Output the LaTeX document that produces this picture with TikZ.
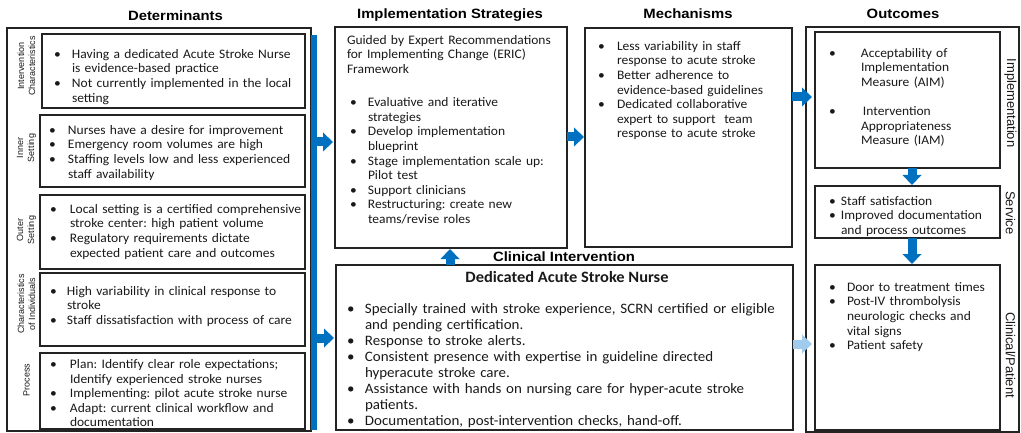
\documentclass[tikz,border=0pt]{standalone}
\usepackage{fontspec}
\setmainfont[FakeStretch=1.04]{Carlito}
\newfontfamily\hfont[FakeStretch=1.1]{Liberation Sans}
\newfontfamily\lfont{Liberation Sans}
\usetikzlibrary{arrows.meta}
\definecolor{ablue}{RGB}{0,112,192}
\definecolor{lblue}{RGB}{160,203,236}
\definecolor{edge}{RGB}{35,35,35}
\definecolor{ink}{RGB}{25,25,25}
\frenchspacing
% hanging bullet item: bullet at the left edge, text indented by \bgap
\newlength\bgap
\newcommand\itm{\par\leftskip=\bgap\noindent\llap{\hbox to\bgap{\strut•\hfil}}}
\begin{document}
\begin{tikzpicture}[x=1pt,y=-1pt, text=ink,
  frame/.style={draw=edge, line width=1.3pt, inner sep=0pt, outer sep=0pt, anchor=north west},
  txt/.style={anchor=north west, inner sep=0pt, outer sep=0pt, align=left, text width=#1,
    font=\fontsize{13}{14.6}\selectfont, execute at begin node={\parindent=0pt\frenchspacing}},
  bigtxt/.style={txt=#1, font=\fontsize{14.4}{16.1}\selectfont},
  ttl/.style={text=black, font=\hfont\bfseries\fontsize{13.5}{16}\selectfont, text height=9.7pt, text depth=0pt, inner sep=0pt},
  sidel/.style={rotate=90, align=center, inner sep=0pt, font=\lfont\fontsize{9}{11}\selectfont},
  sider/.style={rotate=-90, inner sep=0pt, font=\lfont\fontsize{13}{15}\selectfont},
  ar/.style={draw=#1, line width=9pt, -{Triangle[width=19pt,length=10pt,line width=0pt 0]}},
]
\useasboundingbox (0,0) rectangle (1021,433);

% ---- titles ----
\node[ttl] (tdet)  at (175.5,16) {Determinants};
\node[ttl] (timpl) at (450,14)   {Implementation Strategies};
\node[ttl] (tmech) at (688,14)   {Mechanisms};
\node[ttl] (tout)  at (903,14)   {Outcomes};
\node[ttl] (tclin) at (564,257)  {Clinical Intervention};

% ---- determinants column ----
\node[frame, minimum width=304pt, minimum height=403pt] (det)   at (7,28)   {};
\node[frame, minimum width=263pt, minimum height=74pt]  (ic)    at (42,34)  {};
\node[frame, minimum width=265pt, minimum height=72pt]  (inner) at (40,115) {};
\node[frame, minimum width=265pt, minimum height=74pt]  (outer) at (40,195) {};
\node[frame, minimum width=265pt, minimum height=73pt]  (indiv) at (40,273) {};
\node[frame, minimum width=265pt, minimum height=76pt]  (proc)  at (40,353) {};
\node[fill=ablue, inner sep=0pt, outer sep=0pt, minimum width=5.5pt, minimum height=395pt, anchor=north west] (bar) at (311,35) {};

\node[sidel] (lic)   at (26.5,66)  {Intervention\\Characteristics};
\node[sidel] (lin)   at (26.5,148) {Inner\\Setting};
\node[sidel] (lout)  at (26.5,230) {Outer\\Setting};
\node[sidel] (lind)  at (26.5,304) {Characteristics\\of Individuals};
\node[sidel] (lproc) at (26.5,380) {Process};

\node[txt=300pt] (xic) at (54,43.8) {\setlength\bgap{18pt}%
  \itm Having a dedicated Acute Stroke Nurse\\is evidence-based practice
  \itm Not currently implemented in the local\\setting\par};
\node[txt=300pt] (xin) at (49,119.8) {\setlength\bgap{19pt}%
  \itm Nurses have a desire for improvement
  \itm Emergency room volumes are high
  \itm Staffing levels low and less experienced\\staff availability\par};
\node[txt=300pt] (xout) at (50,198.8) {\setlength\bgap{20pt}%
  \itm Local setting is a certified comprehensive\\stroke center: high patient volume
  \itm Regulatory requirements dictate\\expected patient care and outcomes\par};
\node[txt=300pt] (xind) at (50,280.8) {\setlength\bgap{17pt}%
  \itm High variability in clinical response to\\stroke
  \itm Staff dissatisfaction with process of care\par};
\node[txt=300pt] (xproc) at (50,353.8) {\setlength\bgap{20pt}%
  \itm Plan: Identify clear role expectations;\\Identify experienced stroke nurses
  \itm Implementing: pilot acute stroke nurse
  \itm Adapt: current clinical workflow and\\documentation\par};

% ---- implementation strategies ----
\node[frame, minimum width=232pt, minimum height=221pt] (impl) at (335,27) {};
\node[txt=250pt] (ximpl) at (347,33.8) {\strut Guided by Expert Recommendations\\for Implementing Change (ERIC)\\Framework\par};
\node[txt=250pt] (xstrat) at (350,92.2) {\setlength\bgap{18pt}%
  \itm Evaluative and iterative\\strategies
  \itm Develop implementation\\blueprint
  \itm Stage implementation scale up:\\Pilot test
  \itm Support clinicians
  \itm Restructuring: create new\\teams/revise roles\par};

% ---- mechanisms ----
\node[frame, minimum width=207pt, minimum height=219pt] (mech) at (585,28) {};
\node[txt=250pt] (xmech) at (598,35.8) {\setlength\bgap{19pt}%
  \itm Less variability in staff\\response to acute stroke
  \itm Better adherence to\\evidence-based guidelines
  \itm Dedicated collaborative\\expert to support\ \ team\\response to acute stroke\par};

% ---- clinical intervention ----
\node[frame, minimum width=457pt, minimum height=165pt] (clin) at (336,265) {};
\node[font=\bfseries\fontsize{15.8}{18}\selectfont, text height=10pt, text depth=0pt, inner sep=0pt] (tdasn) at (567,277) {Dedicated Acute Stroke Nurse};
\node[bigtxt=480pt] (xclin) at (347,296.9) {\setlength\bgap{18pt}%
  \itm Specially trained with stroke experience, SCRN certified or eligible\\and pending certification.
  \itm Response to stroke alerts.
  \itm Consistent presence with expertise in guideline directed\\hyperacute stroke care.
  \itm Assistance with hands on nursing care for hyper-acute stroke\\patients.
  \itm Documentation, post-intervention checks, hand-off.\par};

% ---- outcomes ----
\node[frame, minimum width=213pt, minimum height=405pt] (outc)  at (806,27)  {};
\node[frame, minimum width=185pt, minimum height=136pt] (oimpl) at (815,32)  {};
\node[frame, minimum width=185pt, minimum height=52pt]  (oserv) at (815,186) {};
\node[frame, minimum width=185pt, minimum height=165pt] (oclin) at (815,265) {};

\node[txt=200pt] (xoimpl) at (829,42.8) {\setlength\bgap{32pt}%
  \itm Acceptability of\\Implementation\\Measure (AIM)\par\vskip14.6pt
  \itm \hspace{2pt}Intervention\\Appropriateness\\Measure (IAM)\par};
\node[txt=200pt] (xoserv) at (829,190.8) {\setlength\bgap{12pt}%
  \itm Staff satisfaction
  \itm Improved documentation\\and process outcomes\par};
\node[txt=200pt] (xoclin) at (829,276.8) {\setlength\bgap{18pt}%
  \itm Door to treatment times
  \itm Post-IV thrombolysis\\neurologic checks and\\vital signs
  \itm Patient safety\par};

\node[sider] (ri) at (1010.5,103) {Implementation};
\node[sider] (rs) at (1010.5,213) {Service};
\node[sider] (rc) at (1010.5,355) {Clinical/Patient};

% ---- connectors ----
\coordinate (ya) at (0,142);
\coordinate (yb) at (0,338);
\coordinate (yc) at (0,137);
\coordinate (yd) at (0,97);
\coordinate (ye) at (0,344);
\coordinate (xa) at (450,0);
\coordinate (xb) at (912,0);
\draw[ar=ablue, shorten >=2pt] (bar.east |- ya) -- (impl.west |- ya);
\draw[ar=ablue, shorten >=2pt] (bar.east |- yb) -- (clin.west |- yb);
\draw[ar=ablue, shorten >=1pt] (impl.east |- yc) -- (mech.west |- yc);
\draw[ar=ablue, shorten >=3pt] (mech.east |- yd) -- (oimpl.west |- yd);
\draw[ar=lblue, shorten >=3pt] (clin.east |- ye) -- (oclin.west |- ye);
\draw[ar=ablue, shorten >=1pt] (clin.north -| xa) -- (impl.south -| xa);
\draw[ar=ablue, shorten >=1pt] (oimpl.south -| xb) -- (oserv.north -| xb);
\draw[ar=ablue, shorten >=1pt] (oserv.south -| xb) -- (oclin.north -| xb);
\end{tikzpicture}
\end{document}
